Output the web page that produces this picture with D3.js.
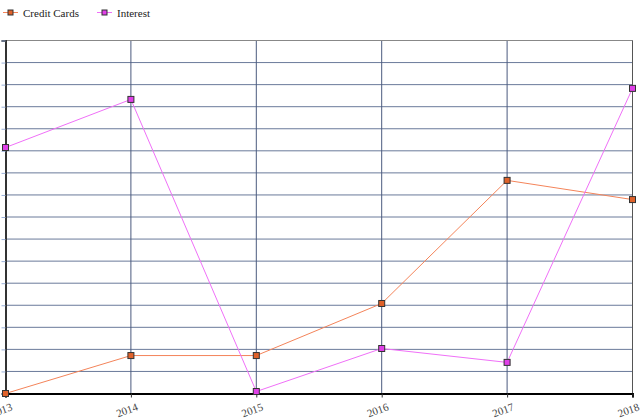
<!DOCTYPE html>
<html>
<head>
<meta charset="utf-8">
<script src="https://cdn.jsdelivr.net/npm/d3@7"></script>
<style>
  body { margin: 0; background: #fff; }
  svg { display: block; }
  text { font-family: "Liberation Serif", "DejaVu Serif", serif; }
</style>
</head>
<body>
<div class="canvas"></div>
<script>
// chart data
const years = ['2013', '2014', '2015', '2016', '2017', '2018'];
const creditCards = [0, 1.72, 1.72, 4.08, 9.66, 8.79];
const interest = [11.15, 13.33, 0.09, 2.04, 1.41, 13.83];
const yTicks = d3.range(0, 17);

const width = 640, height = 420;
const plotLeft = 5.5, plotRight = 632.5, plotTop = 40.5, plotBottom = 393.5;
const serif = '"Liberation Serif", "Times New Roman", serif';

const svg = d3.select('.canvas').append('svg')
    .attr('width', width)
    .attr('height', height);

const x = d3.scalePoint().domain(years).range([plotLeft, plotRight]);
const y = d3.scaleLinear().domain([0, 16]).range([plotBottom, plotTop]);

// horizontal grid
svg.append('g')
    .selectAll('line')
    .data(yTicks)
    .join('line')
    .attr('x1', plotLeft).attr('x2', plotRight)
    .attr('y1', d => y(d)).attr('y2', d => y(d))
    .attr('stroke', '#6a7a9a')
    .attr('stroke-width', 1);

// vertical grid
svg.append('g')
    .selectAll('line')
    .data(years.slice(1, -1))
    .join('line')
    .attr('x1', d => x(d)).attr('x2', d => x(d))
    .attr('y1', plotTop).attr('y2', plotBottom)
    .attr('stroke', '#4a5a7e')
    .attr('stroke-width', 1);

// frame top + right
svg.append('line')
    .attr('x1', plotLeft).attr('x2', plotRight).attr('y1', plotTop).attr('y2', plotTop)
    .attr('stroke', '#888').attr('stroke-width', 1);
svg.append('line')
    .attr('x1', plotRight).attr('x2', plotRight).attr('y1', plotTop).attr('y2', plotBottom)
    .attr('stroke', '#555').attr('stroke-width', 1);

// y axis (its labels sit off the left edge in the original, so only ticks show)
const yAxis = svg.append('g')
    .attr('transform', `translate(${plotLeft},0)`)
    .call(d3.axisLeft(y).tickValues(yTicks).tickSize(4).tickFormat(''));
yAxis.select('.domain').attr('stroke', '#333').attr('stroke-width', 2);
yAxis.selectAll('.tick line').attr('stroke', '#9ab0d8');

// x axis
const xAxis = svg.append('g')
    .attr('transform', `translate(0,${plotBottom})`)
    .call(d3.axisBottom(x).tickSize(4).tickPadding(4));
xAxis.select('.domain').attr('stroke', '#000').attr('stroke-width', 2);
xAxis.selectAll('.tick line').attr('stroke', '#333');
xAxis.selectAll('.tick text')
    .attr('fill', '#444')
    .style('font-family', serif)
    .style('font-size', '11px')
    .attr('text-anchor', 'end')
    .attr('dx', '0.1em')
    .attr('dy', '0.9em')
    .attr('transform', 'rotate(-20)');

const series = [
  {name: 'Credit Cards', values: creditCards, line: '#f4845a', fill: '#e0622a'},
  {name: 'Interest', values: interest, line: '#f070f8', fill: '#e040e8'}
];

const line = d3.line()
    .x((d, i) => x(years[i]))
    .y(d => y(d));

series.forEach(s => {
  svg.append('path')
      .datum(s.values)
      .attr('d', line)
      .attr('fill', 'none')
      .attr('stroke', s.line)
      .attr('stroke-width', 1);

  svg.append('g')
      .selectAll('rect')
      .data(s.values)
      .join('rect')
      .attr('x', (d, i) => x(years[i]) - 3)
      .attr('y', d => y(d) - 3)
      .attr('width', 6)
      .attr('height', 6)
      .attr('fill', s.fill)
      .attr('stroke', '#333')
      .attr('stroke-width', 1);
});

// legend
const legendX = [3, 97];
const legend = svg.append('g')
    .selectAll('g')
    .data(series)
    .join('g')
    .attr('transform', (d, i) => `translate(${legendX[i]},12.5)`);

legend.append('line')
    .attr('x1', 0).attr('x2', 15)
    .attr('stroke', d => d.line);
legend.append('rect')
    .attr('x', 5).attr('y', -2.5)
    .attr('width', 5).attr('height', 5)
    .attr('fill', d => d.fill)
    .attr('stroke', '#333');
legend.append('text')
    .attr('x', 20)
    .attr('y', 4)
    .style('font-family', serif)
    .style('font-size', '11px')
    .attr('fill', '#222')
    .text(d => d.name);
</script>
</body>
</html>
